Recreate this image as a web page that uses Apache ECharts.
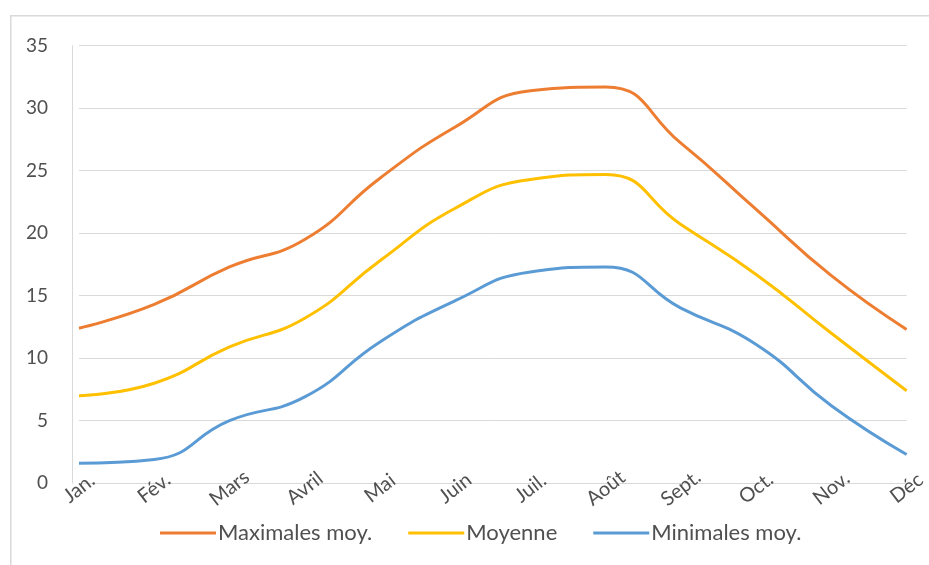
<!DOCTYPE html>
<html>
<head>
<meta charset="utf-8">
<script src="https://cdn.jsdelivr.net/npm/echarts@6/dist/echarts.min.js"></script>
<style>html,body{margin:0;padding:0;background:#fff}#c{width:929px;height:565px}</style>
</head>
<body>
<div id="c"></div>
<script>
var months = ['Jan.', 'Fév.', 'Mars', 'Avril', 'Mai', 'Juin', 'Juil.', 'Août', 'Sept.', 'Oct.', 'Nov.', 'Déc'];
var maxMoy = [12.4, 14.3, 17.3, 19.5, 24.4, 28.5, 31.4, 31.7, 27.2, 21.9, 16.6, 12.3];
var moyenne = [7.0, 8.0, 10.9, 13.2, 17.8, 22.0, 24.3, 24.7, 20.7, 16.7, 12.0, 7.4];
var minMoy = [1.6, 1.9, 5.0, 6.9, 11.3, 14.6, 16.9, 17.3, 14.0, 11.1, 6.2, 2.3];
var seriesNames = ['Maximales moy.', 'Moyenne', 'Minimales moy.'];
var colors = ['#ED7D31', '#FFC000', '#5B9BD5'];

var chart = echarts.init(document.getElementById('c'));
var font = 'Lato, "Open Sans", sans-serif';
function mk(name, data, color) {
  return {
    name: name, type: 'line', data: data, smooth: 0.5, showSymbol: false, symbol: 'none',
    lineStyle: { color: color, width: 3 }, itemStyle: { color: color }
  };
}
chart.setOption({
  animation: false,
  textStyle: { fontFamily: font },
  graphic: [{
    type: 'rect', left: 10, top: 15, silent: true, z: -1,
    shape: { width: 940, height: 570 },
    style: { fill: '#fff', stroke: '#d9d9d9', lineWidth: 1.5 }
  }],
  grid: { left: 79, right: 16, top: 45.7, bottom: 565 - 483.2 },
  legend: {
    bottom: 16, left: 155,
    data: seriesNames,
    icon: 'rect', itemWidth: 56, itemHeight: 3, itemGap: 36,
    textStyle: { color: '#505050', fontSize: 22, fontFamily: font, padding: [0, 0, 0, -3] }
  },
  xAxis: {
    type: 'category', data: months, boundaryGap: false,
    axisLine: { show: true, lineStyle: { color: '#d9d9d9' } },
    axisTick: { show: false },
    axisLabel: {
      color: '#505050', fontSize: 20, rotate: 38, interval: 0,
      align: 'center', verticalAlign: 'middle', margin: 5, fontFamily: font
    },
    splitLine: { show: false }
  },
  yAxis: {
    type: 'value', min: 0, max: 35, interval: 5, offset: 7,
    axisLine: { show: true, lineStyle: { color: '#d9d9d9' } },
    axisTick: { show: false },
    axisLabel: { color: '#505050', fontSize: 19, margin: 24, fontFamily: font },
    splitLine: { lineStyle: { color: '#d9d9d9', width: 1 } }
  },
  series: [
    mk(seriesNames[0], maxMoy, colors[0]),
    mk(seriesNames[1], moyenne, colors[1]),
    mk(seriesNames[2], minMoy, colors[2])
  ]
});
</script>
</body>
</html>
